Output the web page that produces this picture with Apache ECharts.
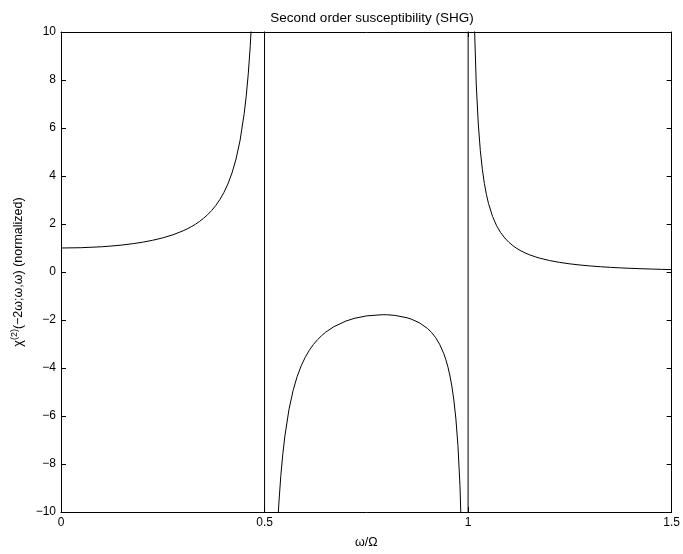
<!DOCTYPE html>
<html>
<head>
<meta charset="utf-8">
<script src="https://cdn.jsdelivr.net/npm/echarts@6/dist/echarts.min.js"></script>
<style>
  html, body { margin: 0; padding: 0; background: #fff; }
  #chart { width: 683px; height: 554px; }
</style>
</head>
<body>
<div id="chart"></div>
<script>
// omega / Omega sample positions and the normalized chi(2)
const omegaRatio = [
  0, 0.05, 0.1, 0.125, 0.15, 0.175, 0.2, 0.225, 0.25, 0.275, 0.3, 0.31, 0.32, 0.33, 0.34, 0.35, 0.36, 0.37,
  0.38, 0.39, 0.4, 0.41, 0.42, 0.43, 0.44, 0.45, 0.455, 0.46, 0.465, 0.47, 0.475, 0.48, 0.49, 0.499,
  0.501, 0.51, 0.52, 0.53, 0.535, 0.54, 0.545, 0.55, 0.56, 0.57, 0.58, 0.59, 0.6, 0.61, 0.62, 0.63, 0.64,
  0.65, 0.67, 0.7, 0.72, 0.75, 0.79, 0.8, 0.82, 0.85, 0.86, 0.88, 0.9, 0.91, 0.92, 0.93, 0.94, 0.945, 0.95,
  0.955, 0.96, 0.965, 0.97, 0.975, 0.98, 0.985, 0.99, 0.999,
  1.001, 1.005, 1.01, 1.015, 1.02, 1.025, 1.03, 1.035, 1.04, 1.045, 1.05, 1.06, 1.07, 1.08, 1.09, 1.1,
  1.11, 1.12, 1.13, 1.14, 1.15, 1.165, 1.175, 1.2, 1.225, 1.25, 1.275, 1.3, 1.325, 1.35, 1.375, 1.4,
  1.425, 1.45, 1.475, 1.5
];
const chi2 = [
  1, 1.013, 1.052, 1.084, 1.124, 1.176, 1.240, 1.321, 1.422, 1.551, 1.717, 1.797, 1.887, 1.988, 2.103, 2.235, 2.386, 2.561,
  2.767, 3.012, 3.307, 3.669, 4.124, 4.711, 5.497, 6.600, 7.336, 8.258, 9.444, 11.03, 13.24, 16.57, 33.23, 333,
  -333, -33.45, -16.80, -11.25, -9.669, -8.483, -7.563, -6.827, -5.727, -4.944, -4.360, -3.909, -3.551, -3.261, -3.022, -2.822, -2.653,
  -2.510, -2.281, -2.042, -1.934, -1.829, -1.778, -1.781, -1.807, -1.907, -1.961, -2.113, -2.350, -2.516, -2.729, -3.009, -3.390, -3.634, -3.930,
  -4.292, -4.748, -5.336, -6.123, -7.227, -8.887, -11.66, -17.21, -167,
  167, 32.81, 16.15, 10.60, 7.829, 6.168, 5.062, 4.274, 3.684, 3.226, 2.861, 2.315, 1.928, 1.639, 1.417, 1.240,
  1.097, 0.9784, 0.8792, 0.795, 0.7228, 0.632, 0.5809, 0.4775, 0.3993, 0.3386, 0.2905, 0.2516, 0.2197, 0.1933, 0.1711, 0.1523,
  0.1362, 0.1224, 0.1104, 0.1
];
const xTicks = [0, 0.5, 1, 1.5];
const yTicks = [-10, -8, -6, -4, -2, 0, 2, 4, 6, 8, 10];

const chart = echarts.init(document.getElementById('chart'));
const font = 'Liberation Sans, Arial, Helvetica, sans-serif';
const minus = v => String(v).replace('-', '\u2212');

const axisBase = {
  type: 'value',
  axisLine: { show: true, onZero: false, lineStyle: { color: '#000', width: 1 } },
  axisTick: { show: true, inside: true, length: 5, lineStyle: { color: '#000' } },
  splitLine: { show: false }
};

const option = {
  backgroundColor: '#fff',
  animation: false,
  title: {
    text: 'Second order susceptibility (SHG)',
    left: 367, top: 6, textAlign: 'center',
    textStyle: { fontFamily: font, fontSize: 13.5, fontWeight: 'normal', color: '#000' }
  },
  grid: { left: 61, right: 9, top: 32, bottom: 38 },
  xAxis: [
    Object.assign({}, axisBase, {
      position: 'bottom', min: 0, max: 1.5, interval: 0.5,
      name: 'ω/Ω', nameLocation: 'middle', nameGap: 24,
      nameTextStyle: { fontFamily: font, fontSize: 12.5, color: '#000' },
      axisLabel: { fontFamily: font, fontSize: 12, color: '#000', margin: 5,
        formatter: v => xTicks.includes(v) ? minus(v) : '' }
    }),
    Object.assign({}, axisBase, {
      position: 'top', min: 0, max: 1.5, interval: 0.5, axisLabel: { show: false }
    })
  ],
  yAxis: [
    Object.assign({}, axisBase, {
      position: 'left', min: -10, max: 10, interval: 2,
      name: '{n|χ}{s|(2)}{n|(−2ω;ω,ω) (normalized)}', nameLocation: 'middle', nameGap: 29,
      nameTextStyle: {
        fontFamily: font, fontSize: 12.5, color: '#000',
        rich: {
          n: { fontFamily: font, fontSize: 12.5, color: '#000' },
          s: { fontFamily: font, fontSize: 9, color: '#000', padding: [0, 0, 7, 0] }
        }
      },
      axisLabel: { fontFamily: font, fontSize: 12, color: '#000', margin: 5,
        formatter: v => yTicks.includes(v) ? minus(v) : '' }
    }),
    Object.assign({}, axisBase, {
      position: 'right', min: -10, max: 10, interval: 2, axisLabel: { show: false }
    })
  ],
  series: [{
    type: 'line',
    data: omegaRatio.map((x, i) => [x, chi2[i]]),
    showSymbol: false,
    clip: true,
    smooth: false,
    lineStyle: { color: '#000', width: 1 }
  }]
};
chart.setOption(option);
</script>
</body>
</html>
